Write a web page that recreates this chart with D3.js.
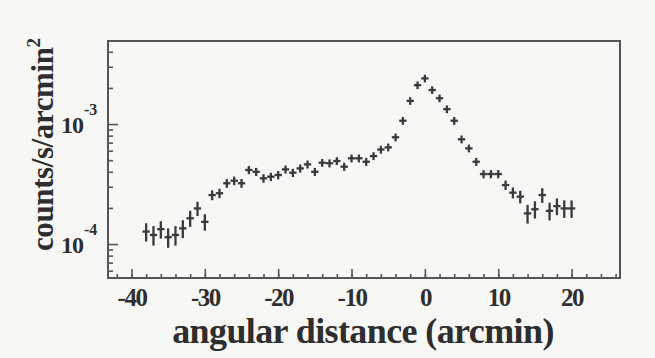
<!DOCTYPE html>
<html>
<head>
<meta charset="utf-8">
<script src="https://cdn.jsdelivr.net/npm/d3@7"></script>
<style>
  body { margin: 0; background: #f7f7f5; }
  svg { display: block; background: #f7f7f5; }
  text { font-family: "Liberation Serif", "DejaVu Serif", serif; font-weight: bold; fill: #2e2e2e; }
</style>
</head>
<body>
<script>
// angular distance of each bin (arcmin)
const distance = d3.range(-38, 21);

// surface brightness, counts/s/arcmin^2
const counts = [
    1.27e-4, 1.19e-4, 1.33e-4, 1.14e-4, 1.19e-4, 1.35e-4, 1.64e-4, 1.98e-4, 1.53e-4,
    2.56e-4, 2.65e-4, 3.21e-4, 3.37e-4, 3.21e-4,
    4.14e-4, 4.00e-4, 3.53e-4, 3.64e-4, 3.76e-4, 4.19e-4, 3.93e-4, 4.27e-4, 4.61e-4,
    4.00e-4, 4.76e-4, 4.71e-4, 4.92e-4, 4.41e-4, 5.18e-4, 5.18e-4, 4.85e-4, 5.41e-4,
    6.13e-4, 6.39e-4, 7.75e-4, 1.065e-3, 1.56e-3, 2.11e-3, 2.40e-3,
    1.92e-3, 1.64e-3, 1.33e-3, 1.065e-3, 7.46e-4, 6.27e-4, 4.85e-4,
    3.83e-4, 3.83e-4, 3.83e-4, 3.10e-4, 2.68e-4, 2.48e-4,
    1.80e-4, 1.95e-4, 2.56e-4, 1.89e-4, 2.07e-4, 1.98e-4, 1.98e-4
];

// 1 sigma errors, same units
const errors = [
    2.2e-5, 2.2e-5, 2.2e-5, 2.1e-5, 2.2e-5, 2.3e-5, 2.5e-5, 2.7e-5, 2.4e-5,
    2.4e-5, 2.4e-5, 2.7e-5, 2.8e-5, 2.7e-5,
    3.2e-5, 3.1e-5, 2.9e-5, 2.9e-5, 3.0e-5, 3.2e-5, 3.1e-5, 3.3e-5, 3.5e-5,
    3.1e-5, 3.6e-5, 3.6e-5, 3.7e-5, 3.4e-5, 3.9e-5, 3.9e-5, 3.7e-5, 4.1e-5,
    4.6e-5, 4.8e-5, 5.8e-5, 8.0e-5, 1.15e-4, 1.55e-4, 1.75e-4,
    1.4e-4, 1.2e-4, 9.8e-5, 8.0e-5, 5.6e-5, 4.7e-5, 3.7e-5,
    3.0e-5, 3.0e-5, 3.0e-5, 2.8e-5, 2.8e-5, 3.0e-5,
    3.2e-5, 3.2e-5, 3.6e-5, 3.2e-5, 3.3e-5, 3.3e-5, 3.3e-5
];

const xMajor = [-40, -30, -20, -10, 0, 10, 20];
const xMinor = d3.range(-42, 27, 2);
const yMajor = [1e-4, 1e-3];
const yMinor = [6e-5, 7e-5, 8e-5, 9e-5, 2e-4, 3e-4, 4e-4, 5e-4, 6e-4, 7e-4, 8e-4, 9e-4, 2e-3, 3e-3, 4e-3];
const yExp = ["-4", "-3"];

const W = 655, H = 358;
const plotLeft = 108, plotTop = 41, plotRight = 620, plotBottom = 278;

const svg = d3.select("body").append("svg")
    .attr("width", W)
    .attr("height", H);

const x = d3.scaleLinear().domain([-43.2, 26.6]).range([plotLeft, plotRight]);
const y = d3.scaleLog().domain([5.21e-5, 4.92e-3]).range([plotBottom, plotTop]);

// x axis ticks (inward)
svg.append("g")
    .attr("transform", "translate(0," + plotBottom + ")")
    .call(d3.axisBottom(x).tickValues(xMinor).tickSize(-4).tickFormat(""))
    .call(g => g.select(".domain").remove());
svg.append("g")
    .attr("class", "xmajor")
    .attr("transform", "translate(0," + plotBottom + ")")
    .call(d3.axisBottom(x).tickValues(xMajor).tickSizeInner(-9).tickSizeOuter(0)
        .tickPadding(10).tickFormat(d => String(d)))
    .call(g => g.select(".domain").remove());
svg.selectAll(".xmajor text")
    .style("font-size", "25px")
    .attr("letter-spacing", "-1.5")
    .attr("fill", "#2e2e2e");
svg.selectAll("g").attr("font-family", null);

// y axis ticks (inward)
svg.append("g")
    .attr("transform", "translate(" + plotLeft + ",0)")
    .call(d3.axisLeft(y).tickValues(yMinor).tickSize(-5).tickFormat(""))
    .call(g => g.select(".domain").remove());
svg.append("g")
    .attr("transform", "translate(" + plotLeft + ",0)")
    .call(d3.axisLeft(y).tickValues(yMajor).tickSize(-10).tickFormat(""))
    .call(g => g.select(".domain").remove());
svg.selectAll(".tick line").attr("stroke", "#555").attr("stroke-width", 1.6);

// y tick labels 10^n
let ylab = svg.selectAll("g.ylab").data(yMajor).enter().append("g")
    .attr("class", "ylab")
    .attr("transform", d => "translate(0," + y(d) + ")");
ylab.append("text")
    .attr("x", 83).attr("y", 9)
    .attr("text-anchor", "end")
    .style("font-size", "24px")
    .attr("letter-spacing", "-1")
    .text("10");
ylab.append("text")
    .attr("x", 84).attr("y", -9)
    .style("font-size", "16px")
    .text((d, i) => yExp[i]);

// frame
svg.append("rect")
    .attr("x", plotLeft).attr("y", plotTop)
    .attr("width", plotRight - plotLeft).attr("height", plotBottom - plotTop)
    .attr("fill", "none")
    .attr("stroke", "#555")
    .attr("stroke-width", 2);

// data crosses with error bars
const pts = distance.map((d, i) => ({x: d, v: counts[i], e: errors[i]}));
let marks = svg.selectAll("g.pt").data(pts).enter().append("g").attr("class", "pt");
marks.append("line")
    .attr("x1", d => x(d.x - 0.5)).attr("x2", d => x(d.x + 0.5))
    .attr("y1", d => y(d.v)).attr("y2", d => y(d.v));
marks.append("line")
    .attr("x1", d => x(d.x)).attr("x2", d => x(d.x))
    .attr("y1", d => y(d.v - d.e)).attr("y2", d => y(d.v + d.e));
marks.selectAll("line").attr("stroke", "#3a3a3a").attr("stroke-width", 2.3);

// axis titles
svg.append("text")
    .attr("x", 363).attr("y", 343)
    .attr("text-anchor", "middle")
    .style("font-size", "36px")
    .attr("letter-spacing", "-0.6")
    .text("angular distance (arcmin)");

let ytitle = svg.append("text")
    .attr("transform", "translate(53,251) rotate(-90)")
    .style("font-size", "31px")
    .attr("letter-spacing", "-0.4");
ytitle.append("tspan").text("counts/s/arcmin");
ytitle.append("tspan").attr("dy", -13).style("font-size", "19px").text("2");
</script>
</body>
</html>
